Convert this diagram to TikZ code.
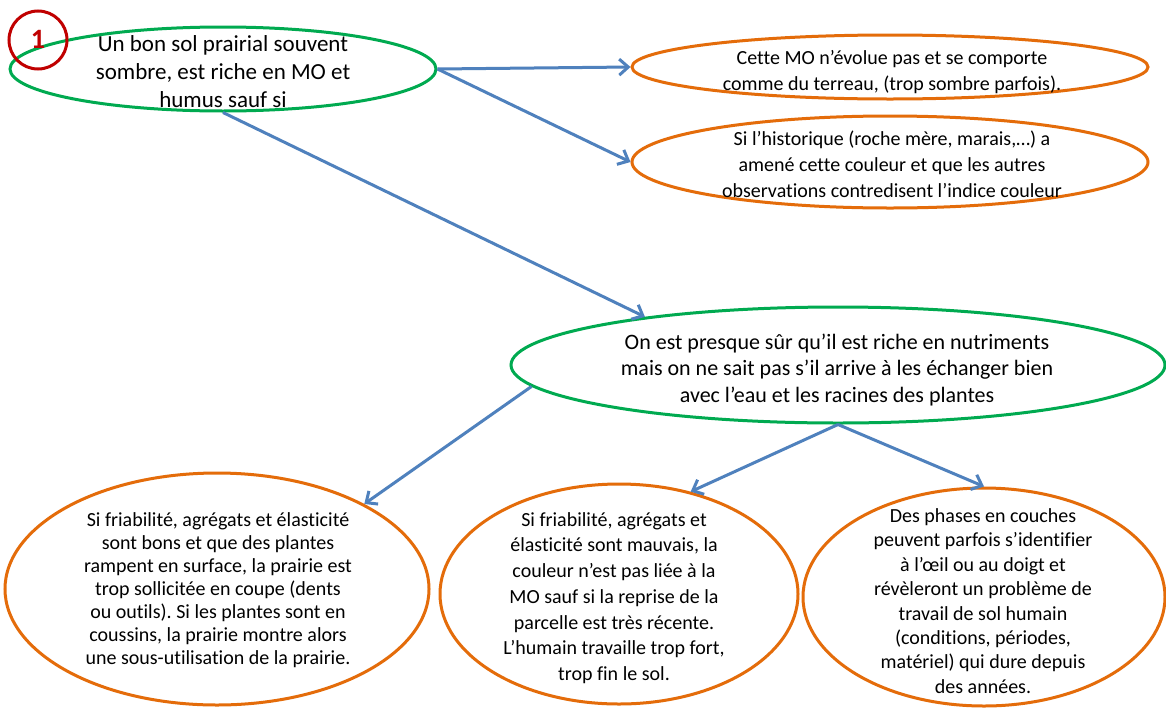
\documentclass[tikz,border=0pt]{standalone}
\usepackage{fontspec}
\setmainfont{Carlito}[Ligatures=NoCommon]
\frenchspacing
\usetikzlibrary{shapes.geometric,arrows.meta}
\definecolor{grn}{RGB}{0,170,80}
\definecolor{org}{RGB}{228,108,10}
\definecolor{blu}{RGB}{79,129,189}
\definecolor{rd}{RGB}{192,0,0}
\tikzset{
  greenell/.style={ellipse, draw=grn, line width=3pt, inner sep=0pt},
  orangeell/.style={ellipse, draw=org, line width=3pt, inner sep=0pt},
  txt/.style={align=center, inner sep=0pt, text=black},
  arr/.style={draw=blu, line width=3pt, -{Straight Barb[length=9pt,width=16pt]}},
  numcirc/.style={circle, draw=rd, line width=3pt, inner sep=0pt, minimum size=58pt,
     text=rd, font=\fontsize{28}{30}\selectfont\bfseries}
}
\begin{document}
\begin{tikzpicture}[x=1pt,y=-1pt]
\useasboundingbox[fill=white] (0,0) rectangle (1166,707);

% ellipses
\node[greenell, minimum width=426pt, minimum height=84pt] (top) at (223,69) {};
\node[orangeell, minimum width=516pt, minimum height=64pt] (o1) at (890,67) {};
\node[orangeell, minimum width=516pt, minimum height=92pt] (o2) at (890,162) {};
\node[greenell, minimum width=654pt, minimum height=116pt] (mid) at (838,365) {};
\node[orangeell, minimum width=424pt, minimum height=232pt] (bl) at (217,589) {};
\node[orangeell, minimum width=358pt, minimum height=220pt] (bm) at (619,594) {};
\node[orangeell, minimum width=362pt, minimum height=218pt] (br) at (984,597) {};

\node[numcirc] (one) at (38,40) {\raisebox{2pt}{1}};

% texts
\node[txt, font=\fontsize{23}{28}\selectfont] (ttop) at (223,72)
  {Un bon sol prairial souvent\\sombre, est riche en MO et\\humus sauf si};
\node[txt, font=\fontsize{20}{25.5}\selectfont] (to1) at (892,72)
  {Cette MO n’évolue pas et se comporte\\comme du terreau, (trop sombre parfois).};
\node[txt, font=\fontsize{20}{26}\selectfont] (to2) at (892,164)
  {Si l’historique (roche mère, marais,…) a\\amené cette couleur et que les autres\\observations contredisent l’indice couleur};
\node[txt, font=\fontsize{22}{26.5}\selectfont] (tmid) at (837,370)
  {On est presque sûr qu’il est riche en nutriments\\mais on ne sait pas s’il arrive à les échanger bien\\avec l’eau et les racines des plantes};
\node[txt, font=\fontsize{20}{23}\selectfont] (tbl) at (218,590)
  {Si friabilité, agrégats et élasticité\\sont bons et que des plantes\\rampent en surface, la prairie est\\trop sollicitée en coupe (dents\\ou outils). Si les plantes sont en\\coussins, la prairie montre alors\\une sous-utilisation de la prairie.};
\node[txt, font=\fontsize{20}{25.7}\selectfont] (tbm) at (614,598)
  {Si friabilité, agrégats et\\élasticité sont mauvais, la\\couleur n’est pas liée à la\\MO sauf si la reprise de la\\parcelle est très récente.\\L’humain travaille trop fort,\\trop fin le sol.};
\node[txt, font=\fontsize{20}{24.4}\selectfont] (tbr) at (983,601)
  {Des phases en couches\\peuvent parfois s’identifier\\à l’œil ou au doigt et\\révèleront un problème de\\travail de sol humain\\(conditions, périodes,\\matériel) qui dure depuis\\des années.};

% connectors
\draw[arr] (top.east) -- (o1.west);
\draw[arr] (top.east) -- (o2.west);
\draw[arr] (top.south) -- (mid.166.5);
\draw[arr] (mid.184) -- (bl.30);
\draw[arr] (mid.south) -- (bm.55);
\draw[arr] (mid.south) -- (br.north);
\end{tikzpicture}
\end{document}
